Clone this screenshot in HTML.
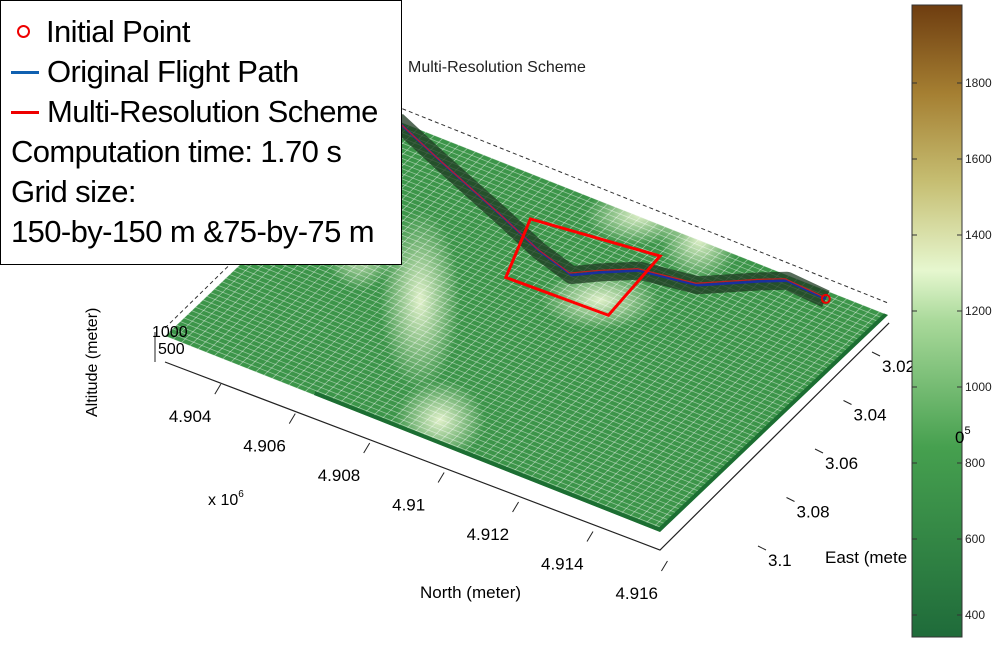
<!DOCTYPE html>
<html><head><meta charset="utf-8"><style>
body{margin:0;background:#fff;width:1000px;height:646px;overflow:hidden;font-family:"Liberation Sans",sans-serif}
svg{position:absolute;left:0;top:0}
#legend{position:absolute;left:0;top:0;width:402px;height:265px;border:1.5px solid #000;background:#fff;font-size:31px;line-height:40px;box-sizing:border-box;padding:11px 0 0 10px;white-space:nowrap;letter-spacing:-0.6px}
</style></head><body>
<svg id="chart" width="1000" height="646">
<defs>
<linearGradient id="cbar" x1="0" y1="1" x2="0" y2="0">
<stop offset="0" stop-color="#1f6b3a"/><stop offset="0.3" stop-color="#46a04f"/><stop offset="0.5" stop-color="#a9d99a"/><stop offset="0.58" stop-color="#e6f7cf"/><stop offset="0.72" stop-color="#c6be72"/><stop offset="0.86" stop-color="#a57f32"/><stop offset="1" stop-color="#6e3d10"/>
</linearGradient>
<radialGradient id="hl"><stop offset="0" stop-color="#e8f5d0" stop-opacity="0.95"/><stop offset="1" stop-color="#e8f5d0" stop-opacity="0"/></radialGradient>
<clipPath id="surfclip"><polygon id="clippoly"/></clipPath>
</defs>
<text x="408" y="72" font-size="16" fill="#222">Multi-Resolution Scheme</text>
<g id="axes"></g>
<g id="surface" clip-path="url(#surfclip)"></g>
<g id="paths"></g>
<rect x="912" y="5" width="50" height="632" fill="url(#cbar)" stroke="#333"/>
<g id="cbticks"></g>
<text x="0" y="0" font-size="16" transform="translate(97,417) rotate(-90)">Altitude (meter)</text>
<text x="420" y="598" font-size="17">North (meter)</text>
<text x="825" y="563" font-size="17">East (mete</text>
<text x="208" y="505" font-size="16">x 10<tspan dy="-8" font-size="10">6</tspan></text>
<text x="955" y="443" font-size="17">0<tspan dy="-9" font-size="11">5</tspan></text>
<text x="152" y="337" font-size="16">1000</text>
<text x="158" y="354" font-size="16">500</text>
</svg>
<div id="legend">
<div><span style="display:inline-block;width:9px;height:9px;border:2.5px solid #e00;border-radius:50%;margin:0 16px 4px 6px"></span>Initial Point</div>
<div><span style="display:inline-block;width:28px;height:3px;background:#1060b0;margin:0 8px 8px 0"></span>Original Flight Path</div>
<div><span style="display:inline-block;width:28px;height:3px;background:#e00;margin:0 8px 8px 0"></span>Multi-Resolution Scheme</div>
<div>Computation time: 1.70 s</div>
<div>Grid size:</div>
<div>150-by-150 m &amp;75-by-75 m</div>
</div>
<script>
const northTicks=[4.904,4.906,4.908,4.91,4.912,4.914,4.916];
const eastTicks=[3.02,3.04,3.06,3.08,3.1];
const cbTicks=[400,600,800,1000,1200,1400,1600,1800];
const pathNorth=[4.9026,4.9042,4.9065,4.9079,4.9090,4.9095,4.9102,4.9116,4.9127,4.9132,4.9143];
const pathEast=[2.992,3.000,3.011,3.018,3.022,3.017,3.011,3.008,2.998,2.994,2.995];
const boxNorth=[4.9071,4.9103,4.9105,4.9078];
const boxEast=[3.008,3.003,3.031,3.032];
const NS="http://www.w3.org/2000/svg";
const N0=4.9025,N1=4.9158,E0=2.992,E1=3.10;
const L=[165,336],F=[660,532],R=[888,315];
function proj(n,e){const a=(n-N0)/(N1-N0),b=(E1-e)/(E1-E0);
 return [L[0]+a*(F[0]-L[0])+b*(R[0]-F[0]),L[1]+a*(F[1]-L[1])+b*(R[1]-F[1])];}
function eastAxis(e){const f=(e-3.02)/(3.1-3.02);return [872+f*(758-872),352+f*(546-352)];}
function mk(t,at,parent){const el=document.createElementNS(NS,t);for(const k in at)el.setAttribute(k,at[k]);parent.appendChild(el);return el;}
const axes=document.getElementById('axes'),surf=document.getElementById('surface'),paths=document.getElementById('paths');
function gp(n,e,dy){const p=proj(n,e);return [p[0],p[1]+dy];}
let ln=mk('polyline',{points:[gp(N0,E1,26),gp(N1,E1,18),eastAxis(3.02-0.012)].map(p=>p.join(',')).join(' '),fill:'none',stroke:'#222','stroke-width':1.2},axes);


let bl=mk('polyline',{points:[gp(N0,E1,-8),gp(N0,E0,-14),gp(N1,E0,-12)].map(p=>p.join(',')).join(' '),fill:'none',stroke:'#333','stroke-dasharray':'4,3','stroke-width':1},axes);


mk('line',{x1:155,y1:332,x2:155,y2:362,stroke:'#222'},axes);
northTicks.forEach(n=>{const p=gp(n,E1,26);
 mk('line',{x1:p[0],y1:p[1],x2:p[0]-6,y2:p[1]+10,stroke:'#222'},axes);
 const t=mk('text',{x:p[0]-52,y:p[1]+38,'font-size':17},axes);t.textContent=n;
 
 });
eastTicks.forEach(e=>{const p=eastAxis(e);
 mk('line',{x1:p[0],y1:p[1],x2:p[0]+8,y2:p[1]+4,stroke:'#222'},axes);
 const t=mk('text',{x:p[0]+10,y:p[1]+20,'font-size':17},axes);t.textContent=e;
 
 });
const corners=[proj(N0,E1),proj(N1,E1),proj(N1,E0),proj(N0,E0)];
document.getElementById('clippoly').setAttribute('points',corners.map(p=>p.join(',')).join(' '));
let base=mk('polygon',{points:corners.map(p=>p.join(',')).join(' '),fill:'#3c9549'},surf);


[[420,300,40,90],[440,420,45,40],[640,215,55,30],[700,240,40,40],[360,250,35,40],[600,300,60,30]].forEach(h=>mk('ellipse',{cx:h[0],cy:h[1],rx:h[2],ry:h[3],fill:'url(#hl)'},surf));
for(let i=0;i<=60;i++){const f=i/60;
 const n=N0+f*(N1-N0),e=E0+f*(E1-E0);
 const a=proj(n,E0),b=proj(n,E1);mk('line',{x1:a[0],y1:a[1],x2:b[0],y2:b[1],stroke:'#fff','stroke-opacity':0.45,'stroke-width':0.8},surf);
 const c=proj(N0,e),d=proj(N1,e);mk('line',{x1:c[0],y1:c[1],x2:d[0],y2:d[1],stroke:'#fff','stroke-opacity':0.45,'stroke-width':0.8},surf);}
mk('polyline',{points:[proj(N0+0.004,E1),proj(N1,E1),proj(N1,E0)].map(p=>p.join(',')).join(' '),fill:'none',stroke:'#1c6e32','stroke-width':8},surf);
const pp=pathNorth.map((n,i)=>proj(n,pathEast[i]).join(',')).join(' ');
mk('polyline',{points:pp,fill:'none',stroke:'#1d3a22','stroke-width':18,'stroke-opacity':0.75,'stroke-linejoin':'round'},paths);
let op=mk('polyline',{points:pp,fill:'none',stroke:'#1a2fa0','stroke-width':2.5},paths);


let mp=mk('polyline',{points:pp,fill:'none',stroke:'#c02020','stroke-width':1.2,transform:'translate(-2,-2)'},paths);


const ip=proj(pathNorth[pathNorth.length-1],pathEast[pathEast.length-1]);
let ic=mk('circle',{cx:ip[0],cy:ip[1],r:4,fill:'none',stroke:'#e00','stroke-width':2},paths);


let rb=mk('polygon',{points:boxNorth.map((n,i)=>proj(n,boxEast[i]).join(',')).join(' '),fill:'none',stroke:'#f00','stroke-width':3},paths);


const cbg=document.getElementById('cbticks');
const cy=v=>615-(v-400)*(615-83)/1400;
cbTicks.forEach(v=>{const y=cy(v);
 mk('line',{x1:912,y1:y,x2:917,y2:y,stroke:'#333'},cbg);mk('line',{x1:957,y1:y,x2:962,y2:y,stroke:'#333'},cbg);
 const t=mk('text',{x:965,y:y+4,'font-size':12,fill:'#222'},cbg);t.textContent=v;
 
 });
</script>
</body></html>
